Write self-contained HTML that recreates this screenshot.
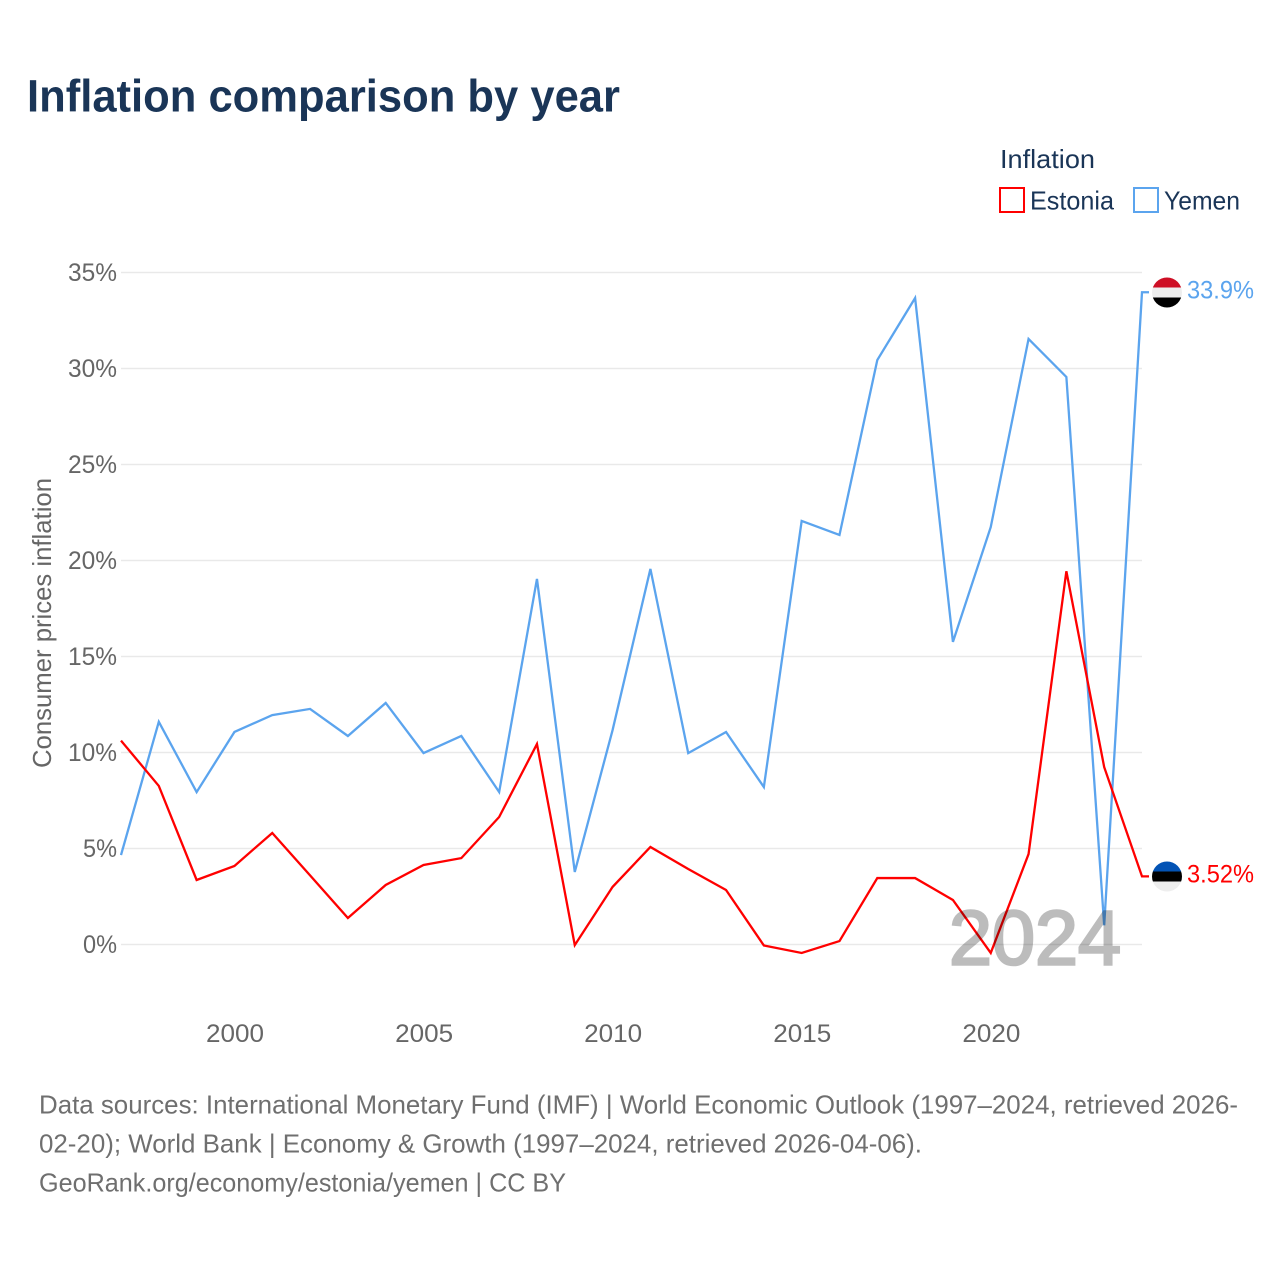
<!DOCTYPE html>
<html lang="en">
<head>
<meta charset="utf-8">
<title>Inflation comparison by year</title>
<style>
html,body{margin:0;padding:0;background:#fff;}
svg{display:block;font-family:"Liberation Sans",sans-serif;}
</style>
</head>
<body>
<svg id="chart" xmlns="http://www.w3.org/2000/svg" width="1280" height="1280" viewBox="0 0 1280 1280">
  <defs>
    <clipPath id="clip-yemen"><circle cx="1167" cy="292.5" r="15"/></clipPath>
    <clipPath id="clip-estonia"><circle cx="1167" cy="876.5" r="15"/></clipPath>
  </defs>
  <text x="27" y="111.5" font-size="45" font-weight="700" fill="#1a3557" textLength="593" lengthAdjust="spacingAndGlyphs">Inflation comparison by year</text>

  <g>
    <text x="1000" y="168" font-size="26" fill="#1a3557" textLength="95" lengthAdjust="spacingAndGlyphs">Inflation</text>
    <rect x="1000" y="188" width="24" height="24" fill="none" stroke="#ff0000" stroke-width="2"/>
    <text x="1030" y="209.5" font-size="26" fill="#1a3557" textLength="84" lengthAdjust="spacingAndGlyphs">Estonia</text>
    <rect x="1134" y="188" width="24" height="24" fill="none" stroke="#5ba4ee" stroke-width="2"/>
    <text x="1164" y="209.5" font-size="26" fill="#1a3557" textLength="76" lengthAdjust="spacingAndGlyphs">Yemen</text>
  </g>

  <text transform="translate(51,768) rotate(-90)" font-size="26" fill="#666666" textLength="290" lengthAdjust="spacingAndGlyphs">Consumer prices inflation</text>

  <g id="grid"></g>
  <g id="yticks"></g>
  <g id="xticks"></g>

  <polyline id="line-yemen" fill="none" stroke="#5ba4ee" stroke-width="2.3" stroke-linejoin="miter"/>
  <polyline id="line-estonia" fill="none" stroke="#ff0000" stroke-width="2.3" stroke-linejoin="miter"/>

  <g opacity="0.26">
    <text x="949" y="964.5" font-size="77" fill="#000000" stroke="#000000" stroke-width="2.6" textLength="172" lengthAdjust="spacingAndGlyphs">2024</text>
  </g>

  <g clip-path="url(#clip-yemen)">
    <rect x="1152" y="277.5" width="30" height="10" fill="#ce0f25"/>
    <rect x="1152" y="287.5" width="30" height="10" fill="#eeeeee"/>
    <rect x="1152" y="297.5" width="30" height="10" fill="#000000"/>
  </g>
  <text id="label-yemen" x="1187" y="298.5" font-size="25" fill="#5ba4ee" textLength="67" lengthAdjust="spacingAndGlyphs"></text>

  <g clip-path="url(#clip-estonia)">
    <rect x="1152" y="861.5" width="30" height="10" fill="#0353b5"/>
    <rect x="1152" y="871.5" width="30" height="10" fill="#000000"/>
    <rect x="1152" y="881.5" width="30" height="10" fill="#eeeeee"/>
  </g>
  <text id="label-estonia" x="1187" y="882.5" font-size="25" fill="#ff0000" textLength="67" lengthAdjust="spacingAndGlyphs"></text>

  <g font-size="26" fill="#6f6f6f">
    <text x="39" y="1113.5" textLength="1199" lengthAdjust="spacingAndGlyphs">Data sources: International Monetary Fund (IMF) | World Economic Outlook (1997–2024, retrieved 2026-</text>
    <text x="39" y="1152.5" textLength="883" lengthAdjust="spacingAndGlyphs">02-20); World Bank | Economy &amp; Growth (1997–2024, retrieved 2026-04-06).</text>
    <text x="39" y="1191.5" textLength="527" lengthAdjust="spacingAndGlyphs">GeoRank.org/economy/estonia/yemen | CC BY</text>
  </g>
</svg>
<script>
const years = [1997,1998,1999,2000,2001,2002,2003,2004,2005,2006,2007,2008,2009,2010,2011,2012,2013,2014,2015,2016,2017,2018,2019,2020,2021,2022,2023,2024];
const yemenValues = [4.66,11.6,7.94,11.07,11.95,12.27,10.86,12.58,9.97,10.86,7.94,19.04,3.78,11.17,19.56,9.97,11.07,8.2,22.06,21.33,30.44,33.67,15.76,21.74,31.54,29.56,1.0,33.97];
const estoniaValues = [10.62,8.26,3.36,4.09,5.81,3.6,1.38,3.1,4.14,4.5,6.64,10.44,-0.03,3.0,5.08,3.93,2.84,-0.05,-0.44,0.18,3.46,3.46,2.32,-0.44,4.71,19.44,9.24,3.55];
const yTickValues = [0,5,10,15,20,25,30,35];
const xTickValues = [2000,2005,2010,2015,2020];
const yemenEndLabel = "33.9%";
const estoniaEndLabel = "3.52%";

const NS = "http://www.w3.org/2000/svg";
const xScale = function (yr) { return 121 + (yr - 1997) * (1142 - 121) / (2024 - 1997); };
const yScale = function (v) { return 944.5 - v * 19.2; };
const connectorEndX = 1149;

const grid = document.getElementById("grid");
const yticks = document.getElementById("yticks");
const xticks = document.getElementById("xticks");

yTickValues.forEach(function (v) {
  const ln = document.createElementNS(NS, "line");
  
  
  ln.setAttribute("x1", 121);
  ln.setAttribute("x2", 1142);
  ln.setAttribute("y1", yScale(v));
  ln.setAttribute("y2", yScale(v));
  ln.setAttribute("stroke", "#e9e9e9");
  ln.setAttribute("stroke-width", "1.5");
  grid.appendChild(ln);

  const t = document.createElementNS(NS, "text");
  
  
  t.setAttribute("x", 117);
  t.setAttribute("y", yScale(v) + 8.5);
  t.setAttribute("text-anchor", "end");
  t.setAttribute("font-size", "25");
  t.setAttribute("fill", "#666666");
  t.setAttribute("textLength", v >= 10 ? 49 : 34);
  t.setAttribute("lengthAdjust", "spacingAndGlyphs");
  t.textContent = v + "%";
  yticks.appendChild(t);
});

xTickValues.forEach(function (yr) {
  const t = document.createElementNS(NS, "text");
  
  
  t.setAttribute("x", xScale(yr) + 0.6);
  t.setAttribute("y", 1042);
  t.setAttribute("text-anchor", "middle");
  t.setAttribute("font-size", "25");
  t.setAttribute("fill", "#666666");
  t.setAttribute("textLength", 58);
  t.setAttribute("lengthAdjust", "spacingAndGlyphs");
  t.textContent = String(yr);
  xticks.appendChild(t);
});

function linePoints(values) {
  const pts = values.map(function (v, i) { return xScale(years[i]).toFixed(2) + "," + yScale(v).toFixed(2); });
  pts.push(connectorEndX + "," + yScale(values[values.length - 1]).toFixed(2));
  return pts.join(" ");
}
document.getElementById("line-yemen").setAttribute("points", linePoints(yemenValues));
document.getElementById("line-estonia").setAttribute("points", linePoints(estoniaValues));
document.getElementById("label-yemen").textContent = yemenEndLabel;
document.getElementById("label-estonia").textContent = estoniaEndLabel;
</script>
</body>
</html>
